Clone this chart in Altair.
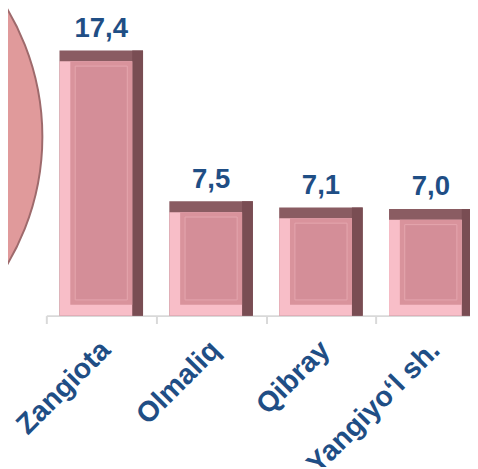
import altair as alt
import pandas as pd

categories = ["Zangiota", "Olmaliq", "Qibray", "Yangiyo\u2018l sh."]
values = [17.4, 7.5, 7.1, 7.0]

df = pd.DataFrame({"cat": categories, "value": values})

BW = 85      # bar width in px
BEV = 11     # bevel size in px
INS = 5      # inner panel inset

x_scale = alt.Scale(paddingInner=0, paddingOuter=0)
x_enc = alt.X("cat:N", sort=categories, scale=x_scale,
              axis=alt.Axis(title=None, labelAngle=-45, labelFont="Liberation Sans",
                            labelFontSize=29, labelFontWeight="bold", labelColor="#1F4E85",
                            labelPadding=12, labelOffset=-6, tickBand="extent", tickSize=8,
                            tickColor="#D9D9D9", domainColor="#D9D9D9", tickWidth=2,
                            domainWidth=2, labelOverlap=False, labelBound=False))
y_enc = alt.Y("value:Q", scale=alt.Scale(domain=[0, 18.7]), axis=None)

base = alt.Chart(df).encode(x=x_enc, y=y_enc, y2=alt.datum(0))

circle = alt.Chart(pd.DataFrame({"k": [0]})).mark_circle(
    color="#E09A9B", opacity=1, stroke="#9E6A6C", strokeWidth=2
).encode(x=alt.value(-258), y=alt.value(108), size=alt.value(258000))

top_dark = base.mark_bar(width=BW, color="#8A5C62")
right_dark = base.mark_bar(width=BEV, xOffset=(BW - BEV) / 2, color="#794D53")
light = base.mark_bar(width=BW - BEV, xOffset=-BEV / 2, yOffset=BEV, color="#F8BEC8")
face = base.mark_bar(width=BW - 2 * BEV, yOffset=BEV, y2Offset=-BEV, color="#D9939C")
inner = base.mark_bar(width=BW - 2 * BEV - 2 * INS, yOffset=BEV + INS,
                      y2Offset=-(BEV + INS), color="#D48E98",
                      stroke="#E4A6AE", strokeWidth=1)

labels = alt.Chart(df).transform_calculate(
    lab="replace(format(datum.value, '.1f'), '.', ',')"
).mark_text(dy=-14, baseline="alphabetic", font="Liberation Sans", fontSize=28,
            fontWeight="bold", color="#1F4E85").encode(
    x=alt.X("cat:N", sort=categories, scale=x_scale),
    y=alt.Y("value:Q", scale=alt.Scale(domain=[0, 18.7])),
    text="lab:N")

chart = alt.layer(circle, top_dark, right_dark, light, face, inner, labels).properties(
    width=447, height=290,
    autosize=alt.AutoSizeParams(type="none"),
    padding={"left": 39, "top": 19, "right": -16, "bottom": 150},
).configure_view(stroke=None)

chart.save("out.html", embed_options={"renderer": "svg", "actions": False})
